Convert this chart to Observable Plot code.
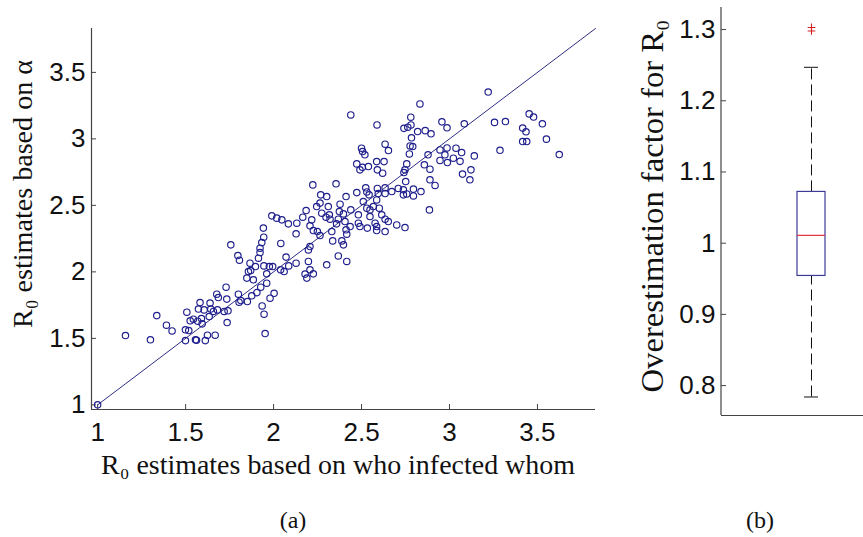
<!DOCTYPE html>
<html><head><meta charset="utf-8">
<script src="https://cdn.jsdelivr.net/npm/d3@7"></script>
<script src="https://cdn.jsdelivr.net/npm/@observablehq/plot@0.6"></script>
<style>
body{margin:0;background:#fff;}
#wrap{position:relative;width:863px;height:537px;overflow:hidden;background:#fff;}
#pa{position:absolute;left:0;top:0;width:600px;height:445px;}
#pb{position:absolute;left:600px;top:0;width:300px;height:445px;}
#pa svg,#pb svg{max-width:none !important;}
#ov{position:absolute;left:0;top:0;}
</style></head><body>
<div id="wrap"><div id="pa"></div><div id="pb"></div><svg id="ov" width="863" height="537"></svg></div>
<script>
// R0 estimates based on who infected whom (x) and based on alpha (y)
const whoInfected = [1.000,1.158,1.300,1.336,1.391,1.423,1.499,1.499,1.507,1.518,1.526,1.556,1.562,1.569,1.582,1.590,1.594,1.605,1.612,1.624,1.634,1.639,1.643,1.658,1.668,1.677,1.681,1.719,1.730,1.734,1.736,1.741,1.573,1.544,1.686,
1.797,1.806,1.800,1.804,1.814,1.848,1.851,1.866,1.870,1.876,1.897,1.905,1.914,1.923,1.927,1.935,1.946,1.952,1.961,1.976,1.980,1.995,2.003,2.060,2.071,2.086,2.128,1.757,1.923,1.933,1.944,1.942,2.041,1.945,1.857,1.885,
2.179,2.189,2.226,2.302,2.368,2.416,2.198,2.198,2.207,2.207,1.990,2.018,2.047,2.084,2.132,2.166,2.185,2.217,2.245,2.264,2.274,2.298,2.207,2.226,2.249,2.264,2.128,2.331,2.336,2.388,2.397,2.412,2.416,2.317,2.321,2.368,2.374,2.397,2.406,2.311,2.378,2.439,
2.223,2.355,2.268,2.302,2.412,2.510,2.530,2.567,2.601,2.548,2.615,2.634,2.482,2.491,2.533,2.577,2.586,2.652,2.700,2.747,2.473,2.524,2.590,2.634,2.709,2.751,2.543,2.530,2.595,2.634,2.672,2.738,2.757,2.795,2.838,2.795,
2.473,2.491,2.539,2.590,2.628,2.620,2.757,2.741,2.505,2.586,2.500,2.506,2.519,2.439,2.588,2.634,2.653,2.741,2.763,2.780,2.781,2.832,2.819,2.862,2.895,2.784,2.776,2.791,2.772,2.747,2.738,
2.957,2.986,3.084,2.878,2.857,2.889,2.889,2.918,2.946,2.986,3.037,3.069,2.946,2.974,3.022,3.060,2.988,3.141,3.122,3.074,3.116,2.886,
3.220,3.256,3.318,3.287,3.453,3.478,3.528,3.416,3.435,3.416,3.439,3.551,3.624,2.586,2.482,2.548,2.435,2.358,2.586,2.634,2.040,1.961];
const basedOnAlpha = [1.000,1.521,1.489,1.671,1.599,1.556,1.564,1.483,1.697,1.559,1.632,1.489,1.486,1.629,1.769,1.649,1.609,1.714,1.483,1.524,1.664,1.765,1.720,1.702,1.524,1.832,1.714,1.702,1.885,1.795,1.619,1.707,1.720,1.644,1.807,
2.123,2.088,1.832,1.772,1.784,1.953,1.777,2.065,2.010,1.820,2.040,1.844,2.103,2.145,1.885,1.744,1.682,1.536,1.915,2.040,1.802,2.040,1.839,2.002,2.111,2.045,2.065,2.203,2.178,2.220,2.261,2.329,2.214,2.045,2.002,1.940,
1.983,1.953,1.985,2.053,2.120,2.078,2.078,2.165,2.190,2.015,2.421,2.404,2.391,2.361,2.366,2.411,2.461,2.391,2.491,2.517,2.441,2.411,2.346,2.311,2.303,2.273,2.286,2.303,2.233,2.233,2.203,2.316,2.283,2.429,2.396,2.396,2.453,2.436,2.378,2.491,2.509,2.466,
2.654,2.662,2.579,2.566,2.566,2.529,2.479,2.491,2.479,2.466,2.429,2.396,2.366,2.341,2.329,2.366,2.341,2.378,2.353,2.333,2.596,2.632,2.627,2.632,2.627,2.679,2.579,2.601,2.589,2.589,2.604,2.617,2.586,2.622,2.604,2.571,
2.812,2.767,2.792,2.767,2.829,2.742,2.812,2.747,2.786,2.829,2.930,2.905,2.880,3.180,3.105,2.960,2.912,3.079,3.088,3.163,3.105,3.263,3.055,3.062,3.038,3.008,2.947,2.942,2.887,2.767,2.579,
3.128,3.083,3.113,2.880,2.805,2.772,2.692,2.650,2.917,2.932,2.930,2.897,2.838,2.880,2.855,2.831,2.822,2.872,2.767,2.735,2.692,2.466,
3.352,3.124,3.130,2.914,3.188,3.164,3.113,3.081,3.053,2.980,2.980,2.998,2.882,2.541,2.429,2.416,2.341,2.361,2.311,2.303,2.015,1.985];
const scatterTicks = [1, 1.5, 2, 2.5, 3, 3.5];
const scatterDomain = [0.965, 3.83];
const identityLine = [1, 3.83];

// Overestimation factor box plot
const boxCategory = ["R0"];
const boxLowWhisker = [0.784];
const boxQ1 = [0.954];
const boxMedian = [1.011];
const boxQ3 = [1.072];
const boxHighWhisker = [1.247];
const boxOutliers = [1.303, 1.298];
const factorTicks = [0.8, 0.9, 1, 1.1, 1.2, 1.3];
const factorDomain = [0.758, 1.331];

const tickFont = "'Liberation Sans', Arial, Helvetica, sans-serif";
const serifFont = "'Liberation Serif', 'Times New Roman', serif";
const axisColor = "#444";

const points = whoInfected.map((x, i) => ({x, y: basedOnAlpha[i]}));

const plotA = Plot.plot({
  width: 600, height: 445,
  marginLeft: 91, marginRight: 5, marginTop: 28, marginBottom: 36,
  x: {domain: scatterDomain},
  y: {domain: scatterDomain},
  style: {fontFamily: tickFont, fontSize: "26px", color: "#111", background: "transparent", overflow: "visible"},
  marks: [
    Plot.ruleY([scatterDomain[0]], {stroke: axisColor, strokeWidth: 1.2}),
    Plot.ruleX([scatterDomain[0]], {stroke: axisColor, strokeWidth: 1.2}),
    Plot.axisX({ticks: scatterTicks, tickFormat: d => String(d), tickSize: -5, tickPadding: 18, label: null, stroke: axisColor}),
    Plot.axisY({ticks: scatterTicks, tickFormat: d => String(d), tickSize: -5, tickPadding: 11, label: null, stroke: axisColor}),
    Plot.line(identityLine, {x: d => d, y: d => d, stroke: "#2e2e82", strokeWidth: 1}),
    Plot.dot(points, {x: "x", y: "y", r: 3.2, stroke: "#1e1e8c", strokeWidth: 1.15, fill: "none"})
  ]
});
plotA.style.maxWidth = "none";
document.getElementById("pa").appendChild(plotA);

const box = boxCategory.map((c, i) => ({c, lo: boxLowWhisker[i], q1: boxQ1[i], med: boxMedian[i], q3: boxQ3[i], hi: boxHighWhisker[i]}));
const outl = boxOutliers.map(v => ({c: boxCategory[0], v}));

const plotB = Plot.plot({
  width: 300, height: 445,
  marginLeft: 121, marginRight: 0, marginTop: 7, marginBottom: 30,
  x: {type: "band", domain: boxCategory, padding: 0.73, axis: null},
  y: {domain: factorDomain},
  style: {fontFamily: tickFont, fontSize: "26px", color: "#111", background: "transparent", overflow: "visible"},
  marks: [
    Plot.ruleY([factorDomain[0]], {stroke: axisColor, strokeWidth: 1.2}),
    Plot.axisY({ticks: factorTicks, tickFormat: d => String(d), tickSize: -5, tickPadding: 11, label: null, stroke: axisColor}),
    Plot.ruleX(box, {x: "c", y1: "q3", y2: "hi", stroke: "#111", strokeDasharray: "11,5"}),
    Plot.ruleX(box, {x: "c", y1: "lo", y2: "q1", stroke: "#111", strokeDasharray: "11,5"}),
    Plot.tickY(box, {x: "c", y: "hi", stroke: "#111", inset: 7}),
    Plot.tickY(box, {x: "c", y: "lo", stroke: "#111", inset: 7}),
    Plot.barY(box, {x: "c", y1: "q1", y2: "q3", fill: "white", stroke: "#3c3c96", strokeWidth: 1.2}),
    Plot.tickY(box, {x: "c", y: "med", stroke: "#e03038", strokeWidth: 1.2}),
    Plot.dot(outl, {x: "c", y: "v", symbol: "plus", r: 2.6, stroke: "#d42020", strokeWidth: 1.1})
  ]
});
plotB.style.maxWidth = "none";
document.getElementById("pb").appendChild(plotB);
// left axis line of panel (b)
{
  const xr = plotB.scale("x").range;
  const yr = plotB.scale("y").range;
  d3.select(plotB).append("line")
    .attr("x1", xr[0]).attr("x2", xr[0])
    .attr("y1", yr[0]).attr("y2", yr[1])
    .attr("stroke", axisColor).attr("stroke-width", 1.2);
}

// Titles and captions
const ov = d3.select("#ov");
ov.append("text")
  .attr("transform", "translate(32,194) rotate(-90)")
  .attr("text-anchor", "middle")
  .attr("font-family", serifFont).attr("font-size", 28).attr("fill", "#111")
  .attr("textLength", 268).attr("lengthAdjust", "spacingAndGlyphs")
  .text("R₀ estimates based on α");
ov.append("text")
  .attr("x", 338).attr("y", 474)
  .attr("text-anchor", "middle")
  .attr("font-family", serifFont).attr("font-size", 27).attr("fill", "#111")
  .attr("textLength", 474).attr("lengthAdjust", "spacingAndGlyphs")
  .text("R₀ estimates based on who infected whom");
ov.append("text")
  .attr("transform", "translate(663,206) rotate(-90)")
  .attr("text-anchor", "middle")
  .attr("font-family", serifFont).attr("font-size", 32).attr("fill", "#111")
  .attr("textLength", 373).attr("lengthAdjust", "spacingAndGlyphs")
  .text("Overestimation factor for R₀");
ov.append("text")
  .attr("x", 293).attr("y", 528).attr("text-anchor", "middle")
  .attr("font-family", serifFont).attr("font-size", 24).attr("fill", "#111")
  .text("(a)");
ov.append("text")
  .attr("x", 760).attr("y", 528).attr("text-anchor", "middle")
  .attr("font-family", serifFont).attr("font-size", 24).attr("fill", "#111")
  .text("(b)");
</script>
</body></html>
